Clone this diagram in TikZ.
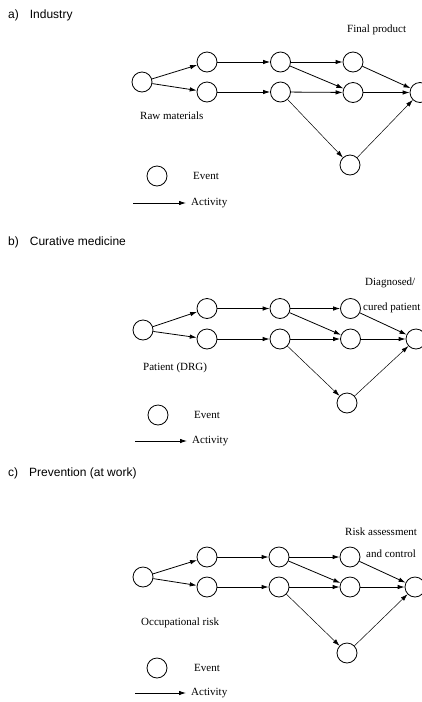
\documentclass[tikz,border=0pt]{standalone}
\usepackage{fontspec}
\setmainfont{Liberation Serif}
\newfontfamily\titlefont{Liberation Sans}
\usetikzlibrary{arrows.meta}
\begin{document}
\begin{tikzpicture}[x=1pt,y=-1pt,
  ev/.style={circle,draw,line width=0.8pt,minimum size=20pt,inner sep=0pt},
  act/.style={line width=0.8pt,-{Latex[length=7pt,width=4.5pt]}},
  thinact/.style={line width=0.5pt,-{Latex[length=7pt,width=4.5pt]}},
  ttl/.style={anchor=west,font=\titlefont\fontsize{12}{14}\selectfont,inner sep=0pt},
  lbl/.style={anchor=west,font=\fontsize{11}{13}\selectfont,inner sep=0pt}]
\useasboundingbox (0,0) rectangle (421,702);

% ---------- a) Industry
\node[ttl] (ta) at (8,15) {a)\hspace{11pt}Industry};
\node[ev] (as) at (142,82) {};
\node[ev] (at1) at (207,62) {};
\node[ev] (ab1) at (207,92) {};
\node[ev] (at2) at (280.5,62) {};
\node[ev] (ab2) at (280.5,92) {};
\node[ev] (at3) at (353,62) {};
\node[ev] (am3) at (353,92.5) {};
\node[ev] (al3) at (350,165) {};
\node[ev] (ae) at (420,92.5) {};
\draw[act] (as) -- (at1);
\draw[act] (as) -- (ab1);
\draw[act] (at1) -- (at2);
\draw[act] (ab1) -- (ab2);
\draw[act] (at2) -- (at3);
\draw[act] (at2) -- (am3);
\draw[act] (ab2) -- (am3);
\draw[thinact] (ab2) -- (al3);
\draw[act] (at3) -- (ae);
\draw[act] (am3) -- (ae);
\draw[thinact] (al3) -- (ae);
\node[lbl] (fa) at (347,30) {Final product};
\node[lbl] (ra) at (140,116) {Raw materials};
\node[ev] (lea) at (157,176) {};
\node[lbl] (lta) at (193,176) {Event};
\coordinate (aa1) at (133,203);
\coordinate (aa2) at (186,203);
\draw[act] (aa1) -- (aa2);
\node[lbl] (laa) at (191,203) {Activity};

% ---------- b) Curative medicine
\node[ttl] (tb) at (8,242) {b)\hspace{11pt}Curative medicine};
\node[ev] (bs) at (143,330) {};
\node[ev] (bt1) at (207,308.5) {};
\node[ev] (bb1) at (207,339) {};
\node[ev] (bt2) at (280,308.5) {};
\node[ev] (bb2) at (280,339) {};
\node[ev] (bt3) at (350.5,308.5) {};
\node[ev] (bm3) at (350.5,339) {};
\node[ev] (bl3) at (347,403) {};
\node[ev] (be) at (416,339) {};
\draw[act] (bs) -- (bt1);
\draw[act] (bs) -- (bb1);
\draw[act] (bt1) -- (bt2);
\draw[act] (bb1) -- (bb2);
\draw[act] (bt2) -- (bt3);
\draw[act] (bt2) -- (bm3);
\draw[act] (bb2) -- (bm3);
\draw[thinact] (bb2) -- (bl3);
\draw[act] (bt3) -- (be);
\draw[act] (bm3) -- (be);
\draw[thinact] (bl3) -- (be);
\node[lbl] (fb1) at (365,283) {Diagnosed/};
\node[lbl] (fb2) at (363,308) {cured patient};
\node[lbl] (rb) at (143,368) {Patient (DRG)};
\node[ev] (leb) at (158,415) {};
\node[lbl] (ltb) at (194,415) {Event};
\coordinate (ab1c) at (135,441);
\coordinate (ab2c) at (187,441);
\draw[act] (ab1c) -- (ab2c);
\node[lbl] (lab) at (192,441) {Activity};

% ---------- c) Prevention (at work)
\node[ttl] (tc) at (8,473) {c)\hspace{11pt}Prevention (at work)};
\node[ev] (cs) at (143,577) {};
\node[ev] (ct1) at (207,557) {};
\node[ev] (cb1) at (207,587) {};
\node[ev] (ct2) at (279,557) {};
\node[ev] (cb2) at (279,587) {};
\node[ev] (ct3) at (350,557) {};
\node[ev] (cm3) at (350,587) {};
\node[ev] (cl3) at (347,653) {};
\node[ev] (ce) at (415,587) {};
\draw[act] (cs) -- (ct1);
\draw[act] (cs) -- (cb1);
\draw[act] (ct1) -- (ct2);
\draw[act] (cb1) -- (cb2);
\draw[act] (ct2) -- (ct3);
\draw[act] (ct2) -- (cm3);
\draw[act] (cb2) -- (cm3);
\draw[thinact] (cb2) -- (cl3);
\draw[act] (ct3) -- (ce);
\draw[act] (cm3) -- (ce);
\draw[thinact] (cl3) -- (ce);
\node[lbl] (fc1) at (345,532) {Risk assessment};
\node[lbl] (fc2) at (366,554) {and control};
\node[lbl] (rc) at (141,623) {Occupational risk};
\node[ev] (lec) at (157,668) {};
\node[lbl] (ltc) at (194,668) {Event};
\coordinate (ac1) at (135,693);
\coordinate (ac2) at (186,693);
\draw[act] (ac1) -- (ac2);
\node[lbl] (lac) at (191,693) {Activity};
\end{tikzpicture}
\end{document}
